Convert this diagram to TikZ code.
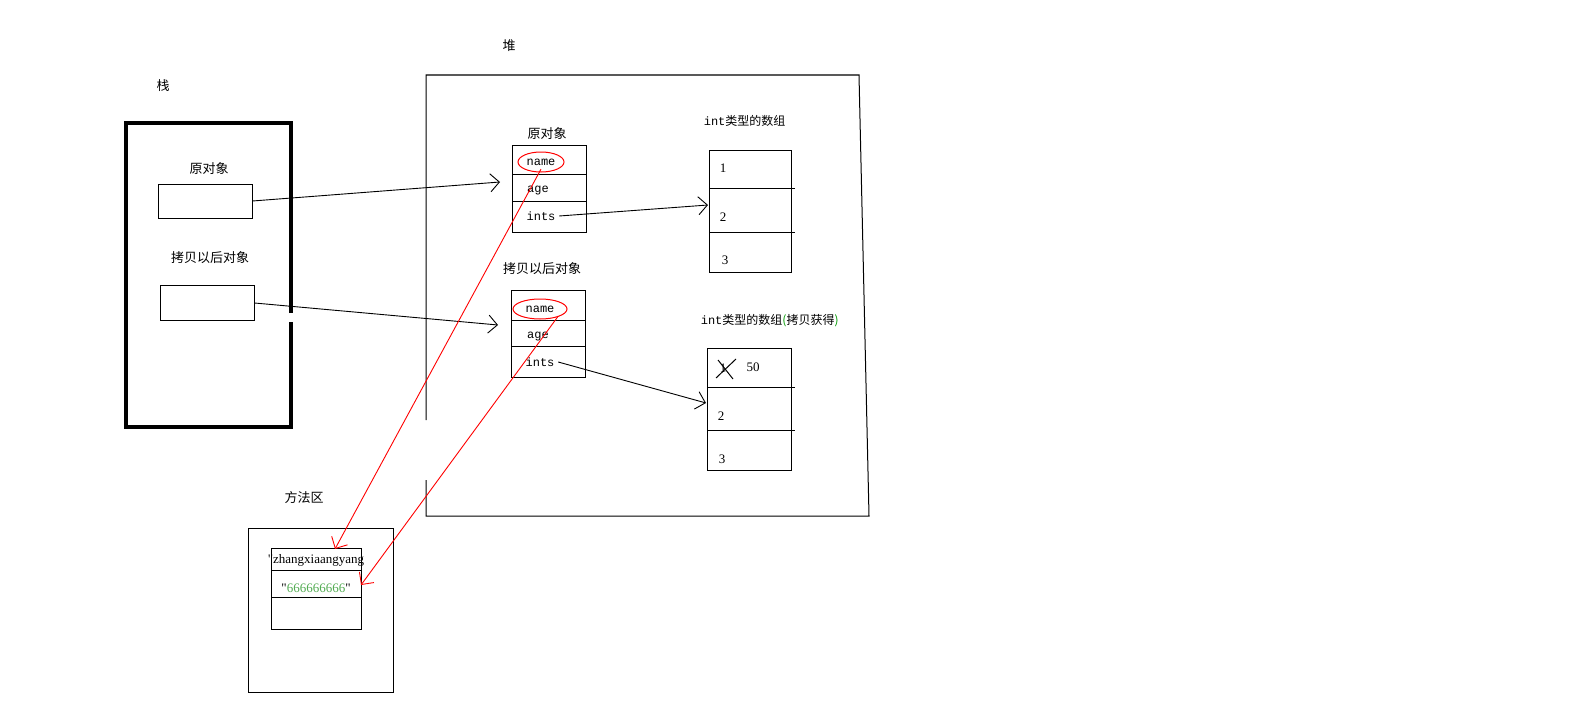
\documentclass[tikz,border=0pt]{standalone}
\usepackage{fontspec}
\setmainfont{Liberation Serif}
\newfontfamily\cjk{Noto Sans CJK SC}
\newfontfamily\mono{Liberation Mono}
\usetikzlibrary{arrows.meta}
\tikzset{
  zh/.style={font=\cjk\fontsize{13}{15}\selectfont},
  fld/.style={font=\mono\fontsize{12}{14}\selectfont},
  num/.style={font=\fontsize{13}{15}\selectfont},
  ptr/.style={-{Straight Barb[length=9pt,width=18pt]},line width=0.9pt},
  refline/.style={ptr,red},
}
\begin{document}
\begin{tikzpicture}[x=1pt,y=-1pt,line width=1pt]
  \useasboundingbox (0,0) rectangle (1579,717);
  % stack
  \node[zh] (stk) at (163,86) {栈};
  \draw[line width=3.5pt] (291,313) -- (291,123) -- (126,123) -- (126,427) -- (291,427) -- (291,322);
  \node[zh] (o1lab) at (209,169) {原对象};
  \node[draw,minimum width=94pt,minimum height=34pt] (s1) at (205,201) {};
  \node[zh] (o2lab) at (210,258) {拷贝以后对象};
  \node[draw,minimum width=94pt,minimum height=35pt] (s2) at (207,303) {};

  % heap
  \node[zh] (heap) at (509,46) {堆};
  \draw (426,420) -- (426,75) -- (859,75) -- (869,516) -- (426,516) -- (426,480);

  % object 1
  \node[zh] (h1lab) at (547,134) {原对象};
  \draw (512,145) rectangle (586,232);
  \draw (512,174) -- (586,174) (512,201) -- (586,201);
  \node[fld] (n1) at (541,162) {name};
  \draw[red] (n1) ellipse (23pt and 10pt);
  \node[fld] (a1) at (538,191) {age};
  \node[fld] (i1) at (541,216) {ints};
  \coordinate (h1) at (500,182);

  % object 2
  \node[zh] (h2lab) at (542,269) {拷贝以后对象};
  \draw (511,290) rectangle (585,377);
  \draw (511,320) -- (585,320) (511,346) -- (585,346);
  \node[fld] (n2) at (540,309) {name};
  \draw[red] (n2) ellipse (27pt and 10pt);
  \node[fld] (a2) at (538,337) {age};
  \node[fld] (i2) at (540,362) {ints};
  \coordinate (h2) at (498,325);

  % array 1
  \node[fld,anchor=west] (arr1lab) at (700,121) {int{\cjk 类型的数组}};
  \draw (709,150) rectangle (791,272);
  \draw (709,188) -- (795,188) (709,232) -- (795,232);
  \node[num] (v11) at (723,168) {1};
  \node[num] (v12) at (723,217) {2};
  \node[num] (v13) at (725,260) {3};
  \coordinate (ar1) at (708,205);

  % array 2
  \node[fld,anchor=west] (arr2lab) at (697,321)
    {int{\cjk 类型的数组\textcolor{green!60!black}{(}拷贝获得\textcolor{green!60!black}{)}}};
  \draw (707,348) rectangle (791,470);
  \draw (707,387) -- (795,387) (707,430) -- (795,430);
  \node[num] (v21) at (723,368) {1};
  \draw (716,378) -- (736,359) (718,360) -- (733,379);
  \node[num] (v50) at (753,367) {50};
  \node[num] (v22) at (721,416) {2};
  \node[num] (v23) at (722,459) {3};
  \coordinate (ar2) at (706,403);

  % method area
  \node[zh] (ma) at (304,498) {方法区};
  \draw (248,528) rectangle (393,692);
  \draw (271,548) rectangle (361,629);
  \draw (271,570) -- (361,570) (271,597) -- (361,597);
  \node[num] (str1) at (316,560) {\textquotedbl zhangxiaangyang};
  \node[num] (str2) at (316,588) {\textquotedbl\textcolor{green!35!gray}{666666666}\textquotedbl};
  \coordinate (m1) at (335,549);
  \coordinate (m2) at (361,585);

  % references
  \draw[ptr] (s1.east) -- (h1);
  \draw[ptr] (s2.east) -- (h2);
  \draw[ptr] (i1.east) -- (ar1);
  \draw[ptr] (i2.east) -- (ar2);
  \draw[refline] (n1.south) -- (m1);
  \draw[refline] (n2.south east) -- (m2);
\end{tikzpicture}
\end{document}
